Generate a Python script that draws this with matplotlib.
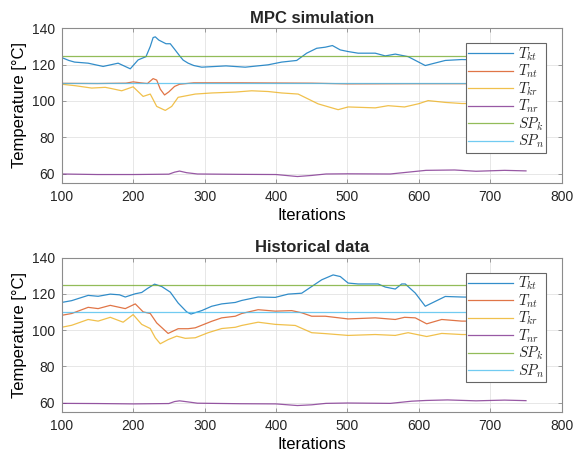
import numpy as np
import matplotlib
matplotlib.use('Agg')
import matplotlib.pyplot as plt

plt.rcParams.update({
    'font.family': ['Liberation Sans', 'DejaVu Sans'],
    'mathtext.fontset': 'cm',
    'axes.edgecolor': '#8c8c8c',
    'xtick.color': '#8c8c8c',
    'ytick.color': '#8c8c8c',
    'xtick.labelcolor': '#262626',
    'ytick.labelcolor': '#262626',
    'text.color': '#262626',
})

# MATLAB default line colours
colors = ['#0072BD', '#D95319', '#EDB120', '#7E2F8E', '#77AC30', '#4DBEEE']
labels = [r'$T_{kt}$', r'$T_{nt}$', r'$T_{kr}$', r'$T_{nr}$', r'$SP_k$', r'$SP_n$']

# ---- MPC simulation ----
tkt_mpc_x = [100, 110, 118, 137, 158, 179, 196, 207, 218, 224, 228, 231, 236, 240, 246, 252, 258, 266,
             270, 277, 285, 296, 330, 357, 389, 408, 429, 443, 457, 469, 479, 490, 501, 515, 539, 553,
             567, 585, 609, 637, 660, 700, 750]
tkt_mpc_y = [123.9, 122.3, 121.4, 120.8, 119.0, 120.8, 117.7, 122.6, 124.4, 130.0, 134.9, 135.3, 133.5,
             132.7, 131.5, 131.5, 128.5, 124.4, 122.5, 120.8, 119.5, 118.6, 119.3, 118.6, 119.9, 121.4,
             122.3, 126.3, 129.0, 129.6, 130.5, 128.1, 127.2, 126.3, 126.3, 124.8, 125.8, 124.4, 119.5,
             122.3, 122.8, 122.5, 122.5]

tnt_mpc_x = [100, 150, 190, 200, 210, 220, 228, 233, 238, 244, 250, 258, 265, 285, 350, 450, 500, 600, 750]
tnt_mpc_y = [109.7, 109.6, 109.8, 110.5, 110.0, 109.6, 112.3, 111.5, 106.5, 103.3, 105.0, 108.0, 109.2,
             110.0, 110.0, 109.8, 109.4, 109.5, 109.5]

tkr_mpc_x = [100, 119, 142, 161, 170, 184, 200, 214, 224, 233, 245, 254, 263, 287, 310, 343, 366, 389,
             408, 431, 459, 487, 501, 539, 557, 580, 600, 613, 637, 660, 700, 750]
tkr_mpc_y = [109.2, 108.4, 107.1, 107.5, 106.8, 105.6, 107.8, 102.5, 103.8, 97.0, 94.8, 97.0, 102.0,
             103.8, 104.4, 104.9, 105.6, 105.2, 104.4, 103.8, 98.4, 95.2, 96.7, 96.2, 97.4, 96.7, 98.5,
             100.2, 99.2, 98.6, 98.5, 98.5]

tnr_mpc_x = [100, 150, 200, 250, 258, 265, 275, 290, 350, 400, 430, 450, 470, 500, 560, 590, 610, 650,
             680, 720, 750]
tnr_mpc_y = [59.8, 59.5, 59.5, 59.7, 60.8, 61.4, 60.5, 59.8, 59.6, 59.5, 58.4, 59.0, 59.8, 59.9, 59.8,
             61.0, 61.8, 62.0, 61.3, 61.8, 61.5]

# ---- Historical data ----
tkt_hist_x = [100, 114, 137, 151, 168, 181, 189, 203, 212, 220, 230, 240, 252, 263, 275, 281, 296, 310,
              324, 343, 352, 375, 399, 417, 436, 450, 464, 480, 490, 501, 515, 543, 553, 567, 576, 581,
              595, 609, 623, 637, 660, 700, 750]
tkt_hist_y = [115.3, 116.3, 119.2, 118.7, 119.9, 119.5, 118.3, 120.1, 120.8, 123.0, 125.4, 124.1, 121.0,
              115.0, 110.1, 108.9, 110.8, 113.2, 114.5, 115.3, 116.4, 118.3, 118.1, 119.9, 120.4, 124.1,
              127.8, 130.5, 129.6, 126.0, 125.5, 125.5, 123.8, 122.7, 125.5, 125.5, 120.5, 113.2, 115.9,
              118.6, 118.3, 118.0, 118.0]

tnt_hist_x = [100, 114, 137, 151, 168, 189, 203, 214, 224, 233, 249, 263, 277, 287, 310, 324, 343, 352,
              375, 399, 422, 436, 450, 469, 501, 539, 567, 580, 595, 611, 632, 660, 700, 750]
tnt_hist_y = [108.2, 109.2, 112.6, 111.9, 113.7, 111.9, 114.5, 110.1, 109.2, 104.0, 98.2, 100.8, 100.8,
              101.3, 104.9, 106.8, 107.7, 109.2, 111.3, 110.5, 110.8, 109.6, 107.7, 107.7, 106.2, 106.8,
              105.9, 107.1, 106.8, 103.5, 105.9, 105.0, 105.0, 105.0]

tkr_hist_x = [100, 114, 137, 151, 168, 186, 200, 212, 224, 231, 238, 249, 261, 273, 287, 305, 324, 343,
              352, 375, 399, 427, 450, 469, 501, 539, 567, 580, 585, 611, 632, 660, 700, 750]
tkr_hist_y = [101.6, 102.7, 105.9, 105.0, 107.1, 104.4, 108.6, 103.2, 100.9, 95.8, 92.5, 94.8, 96.7,
              95.5, 95.8, 98.6, 100.9, 101.6, 102.6, 104.4, 103.2, 102.6, 98.6, 98.1, 97.1, 97.6, 97.1,
              98.2, 98.6, 96.5, 98.2, 97.6, 97.5, 97.5]

tnr_hist_x = [100, 150, 200, 250, 258, 265, 275, 290, 350, 400, 430, 450, 470, 500, 560, 590, 610, 640,
              680, 720, 750]
tnr_hist_y = [59.6, 59.5, 59.3, 59.5, 60.6, 61.0, 60.5, 59.7, 59.4, 59.3, 58.4, 58.8, 59.6, 59.8, 59.6,
              60.8, 61.2, 61.5, 61.0, 61.4, 61.1]

# set points
sp_x = [100, 750]
sp_k = [125, 125]
sp_n = [110, 110]

x_ticks = [100, 200, 300, 400, 500, 600, 700, 800]
y_ticks = [60, 80, 100, 120, 140]


def draw(ax, series, title):
    for (x, y), c, lab in zip(series, colors, labels):
        ax.plot(x, y, color=c, lw=0.9, alpha=0.8, label=lab)
    ax.set_xlim(100, 800)
    ax.set_ylim(55, 140)
    ax.set_xticks(x_ticks)
    ax.set_yticks(y_ticks)
    ax.grid(True, color='#e3e3e3', lw=0.6)
    ax.set_axisbelow(True)
    ax.tick_params(direction='in', top=True, right=True, length=3, width=0.6, labelsize=10, pad=5)
    for sp in ax.spines.values():
        sp.set_linewidth(0.8)
    ax.set_title(title, fontsize=12, fontweight='bold', pad=4)
    ax.set_xlabel('Iterations', fontsize=12, labelpad=3)
    ax.set_ylabel('Temperature [°C]', fontsize=12, labelpad=3)
    leg = ax.legend(loc='upper right', bbox_to_anchor=(0.969, 0.903), borderaxespad=0, fontsize=10.5,
                    handlelength=3.1, labelspacing=0.0, handletextpad=0.3, borderpad=0.15,
                    fancybox=False, framealpha=1, edgecolor='#666666')
    leg.get_frame().set_linewidth(0.8)


fig = plt.figure(figsize=(5.74, 4.62), dpi=100)
ax1 = fig.add_axes([61.7 / 574, 1 - 182.7 / 462, 500 / 574, 154.4 / 462])
ax2 = fig.add_axes([61.7 / 574, 1 - 411.7 / 462, 500 / 574, 154.0 / 462])

draw(ax1, [(tkt_mpc_x, tkt_mpc_y), (tnt_mpc_x, tnt_mpc_y), (tkr_mpc_x, tkr_mpc_y),
           (tnr_mpc_x, tnr_mpc_y), (sp_x, sp_k), (sp_x, sp_n)], 'MPC simulation')
draw(ax2, [(tkt_hist_x, tkt_hist_y), (tnt_hist_x, tnt_hist_y), (tkr_hist_x, tkr_hist_y),
           (tnr_hist_x, tnr_hist_y), (sp_x, sp_k), (sp_x, sp_n)], 'Historical data')

fig.savefig('out.png', dpi=100)
